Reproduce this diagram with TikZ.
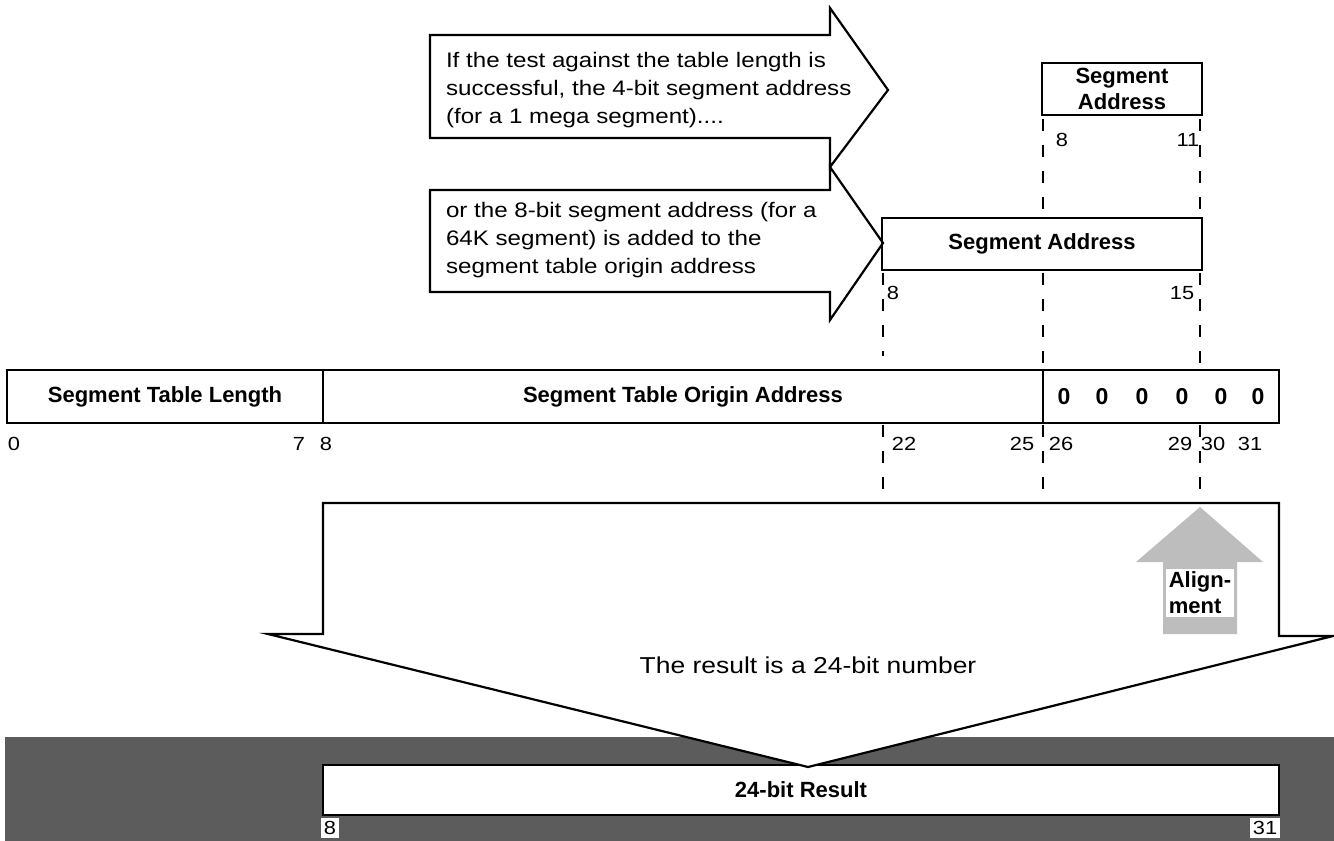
\documentclass[tikz,border=0pt]{standalone}
\usepackage{fontspec}
\setmainfont{Liberation Sans}
\newfontfamily\widefont[FakeStretch=1.15]{Liberation Sans}
\usetikzlibrary{calc}
\definecolor{bargray}{gray}{0.36}
\definecolor{aligngray}{gray}{0.74}
\begin{document}
\begin{tikzpicture}[x=0.5pt,y=-0.5pt,line width=1.1pt,
  every node/.style={inner sep=0pt,outer sep=0pt},
  boldtext/.style={font=\bfseries\fontsize{11}{13}\selectfont},
  bodytext/.style={font=\widefont\fontsize{10.5}{14.15}\selectfont},
  bitlabel/.style={font=\widefont\fontsize{9.5}{11}\selectfont},
  fieldbox/.style={draw,line width=1.1pt,boldtext,align=center},
  dashline/.style={line width=1pt,dash pattern=on 6pt off 7pt},
  bigarrow/.style={draw,fill=white,line width=1.1pt,line join=miter}]
\useasboundingbox (0,0) rectangle (1334,841);

% ---- top arrows
\draw[bigarrow] (430,35) -- (830,35) -- (830,8) -- (888,90) -- (830,167) -- (830,138) -- (430,138) -- cycle;
\draw[bigarrow] (430,190) -- (830,190) -- (830,167) -- (883,243) -- (830,320) -- (830,292) -- (430,292) -- cycle;
\node[bodytext,anchor=west,align=left] (t1) at (446,90) {If the test against the table length is\\successful, the 4-bit segment address\\(for a 1 mega segment)....};
\node[bodytext,anchor=west,align=left] (t2) at (446,240) {or the 8-bit segment address (for a\\64K segment) is added to the\\segment table origin address};

% ---- segment address boxes
\node[fieldbox,minimum width=80pt,minimum height=26pt] (sa1) at (1122,89) {Segment\\[0pt]Address};
\node[fieldbox,minimum width=160pt,minimum height=26pt] (sa2) at (1042,244) {Segment Address};
\node[bitlabel] (l8a) at (1062,140) {8};
\node[bitlabel] (l11) at (1188,140) {11};
\node[bitlabel] (l8b) at (893,293) {8};
\node[bitlabel] (l15) at (1182,293) {15};

% ---- register
\node[fieldbox,minimum width=158pt,minimum height=26.5pt] (stl) at (165,396.5) {Segment Table Length};
\node[fieldbox,minimum width=360pt,minimum height=26.5pt] (stoa) at (683,396.5) {Segment Table Origin Address};
\node[fieldbox,minimum width=118pt,minimum height=26.5pt] (zr) at (1161,396.5) {};
\foreach \i/\xx in {1/1064,2/1102,3/1142,4/1182,5/1221,6/1258}
  \node[boldtext,font=\bfseries\fontsize{11.5}{13}\selectfont] (z\i) at (\xx,397) {0};

\foreach \n/\xx/\t in {b0/14/0,b7/299/7,b8/326/8,b22/904/22,b25/1022/25,b26/1061/26,b29/1180/29,b30/1213/30,b31/1250/31}
  \node[bitlabel] (\n) at (\xx,444) {\t};

% ---- dashed alignment lines
\coordinate (a1) at (1043,119); \coordinate (a2) at (1043,215);
\coordinate (a3) at (1043,273); \coordinate (a4) at (1043,370);
\coordinate (a5) at (1043,425); \coordinate (a6) at (1043,497);
\coordinate (c1) at (1200,119); \coordinate (c2) at (1200,215);
\coordinate (c3) at (1200,273); \coordinate (c4) at (1200,370);
\coordinate (c5) at (1200,425); \coordinate (c6) at (1200,497);
\coordinate (e3) at (883,273); \coordinate (e4) at (883,356);
\coordinate (e5) at (883,425); \coordinate (e6) at (883,497);
\draw[dashline] (a1) -- (a2); \draw[dashline] (a3) -- (a4); \draw[dashline] (a5) -- (a6);
\draw[dashline] (c1) -- (c2); \draw[dashline] (c3) -- (c4); \draw[dashline] (c5) -- (c6);
\draw[dashline] (e3) -- (e4); \draw[dashline] (e5) -- (e6);

% ---- bottom bar
\fill[bargray] (5,737) rectangle (1334,841);
\node[draw=black,line width=0.6pt,fill=white,minimum width=478pt,minimum height=25pt,boldtext] (res) at (801,790) {24-bit Result};
\node[bitlabel,fill=white,inner sep=1.5pt] (r8) at (330,828) {8};
\node[bitlabel,fill=white,inner sep=1.5pt] (r31) at (1265,828) {31};

% ---- big down arrow
\draw[bigarrow] (323,503) -- (1279,503) -- (1279,636) -- (1333,636) -- (808,767) -- (268,634) -- (323,634) -- cycle;
\node[bodytext,font=\widefont\fontsize{11.5}{14}\selectfont] (rt) at (808,665) {The result is a 24-bit number};

% ---- alignment arrow
\fill[aligngray] (1200,507) -- (1263,562) -- (1237,562) -- (1237,634) -- (1163,634) -- (1163,562) -- (1136,562) -- cycle;
\node[boldtext,fill=white,inner sep=1.5pt,align=left] (al) at (1200,593) {Align-\\ment};
\end{tikzpicture}
\end{document}
